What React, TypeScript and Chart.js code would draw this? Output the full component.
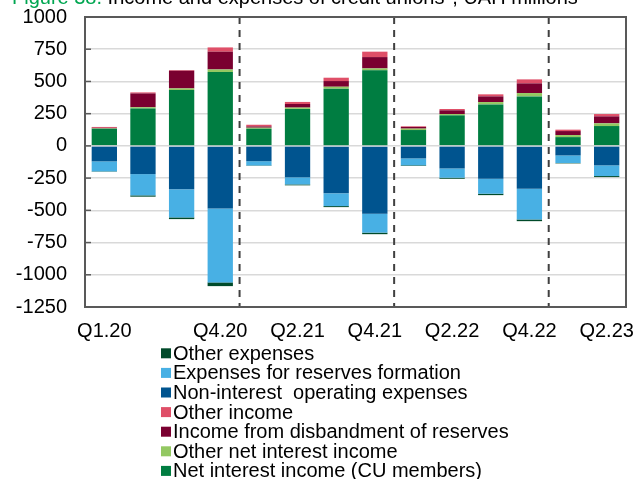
import React, { useEffect, useRef } from "react";
import { Chart, registerables } from "chart.js";

Chart.register(...registerables);

const quarters = ["Q1.20", "Q2.20", "Q3.20", "Q4.20", "Q1.21", "Q2.21", "Q3.21", "Q4.21", "Q1.22", "Q2.22", "Q3.22", "Q4.22", "Q1.23", "Q2.23"];
const shownTickLabels = ["Q1.20", "Q4.20", "Q2.21", "Q4.21", "Q2.22", "Q4.22", "Q2.23"];
const yTicks = [1000, 750, 500, 250, 0, -250, -500, -750, -1000, -1250];

const netInterestIncome = [133, 290, 433, 573, 133, 287, 444, 586, 123, 237, 322, 384, 68, 154];
const otherNetInterestIncome = [3, 10, 13, 20, 8, 10, 15, 15, 11, 10, 18, 26, 16, 21];
const disbandmentIncome = [4, 107, 137, 138, 10, 28, 44, 88, 13, 29, 44, 75, 31, 54];
const otherIncome = [7, 8, 5, 33, 13, 16, 26, 42, 5, 10, 16, 31, 11, 18];
const nonInterestExpenses = [-120, -219, -337, -485, -119, -244, -368, -526, -97, -175, -255, -333, -74, -151];
const reservesExpenses = [-78, -165, -218, -574, -33, -55, -99, -147, -54, -72, -116, -238, -59, -83];
const otherExpenses = [-3, -10, -13, -29, -3, -7, -8, -12, -5, -8, -11, -13, -3, -8];

const titleLead = "Figure 38.";
const titleRest = " Income and expenses of credit unions*, UAH millions";

const FONT = "'Liberation Sans', Arial, sans-serif";

export default function App() {
  const ref = useRef<HTMLCanvasElement | null>(null);

  useEffect(() => {
    if (!ref.current) return;

    const overlay = {
      id: "overlay",
      afterDraw(chart: any) {
        const ctx = chart.ctx;
        const a = chart.chartArea;
        const xs = chart.scales.x;
        const ys = chart.scales.y;
        ctx.save();
        ctx.strokeStyle = "#595959";
        ctx.lineWidth = 1.5;
        yTicks.forEach((v) => {
          const y = ys.getPixelForValue(v);
          ctx.beginPath();
          ctx.moveTo(a.left, y);
          ctx.lineTo(a.left + 6, y);
          ctx.stroke();
        });
        ctx.strokeStyle = "#404040";
        ctx.lineWidth = 2;
        ctx.setLineDash([7, 6]);
        [4, 8, 12].forEach((i) => {
          const x = (xs.getPixelForValue(i - 1) + xs.getPixelForValue(i)) / 2;
          ctx.beginPath();
          ctx.moveTo(x, a.top);
          ctx.lineTo(x, a.bottom);
          ctx.stroke();
        });
        ctx.setLineDash([]);
        ctx.strokeStyle = "#595959";
        ctx.lineWidth = 2;
        ctx.strokeRect(a.left, a.top, a.right - a.left, a.bottom - a.top);
        ctx.font = "20px " + FONT;
        ctx.textBaseline = "alphabetic";
        ctx.textAlign = "left";
        ctx.fillStyle = "#00A651";
        ctx.fillText(titleLead, 12, 4);
        const w = ctx.measureText(titleLead).width;
        ctx.fillStyle = "#000000";
        ctx.fillText(titleRest, 12 + w, 4);
        const ds = chart.data.datasets.slice().reverse();
        ctx.textBaseline = "middle";
        ds.forEach((d: any, i: number) => {
          const y = 353.3 + i * 19.6;
          ctx.fillStyle = d.backgroundColor;
          ctx.fillRect(161, y - 5, 10, 10);
          ctx.fillStyle = "#000000";
          ctx.fillText(d.label, 173, y + 1);
        });
        ctx.restore();
      },
    };

    const mk = (label: string, data: number[], color: string) => ({
      label,
      data,
      backgroundColor: color,
      borderWidth: 0,
      stack: "s",
    });

    const chart = new Chart(ref.current, {
      type: "bar",
      data: {
        labels: quarters,
        datasets: [
          mk("Net interest income (CU members)", netInterestIncome, "#007D41"),
          mk("Other net interest income", otherNetInterestIncome, "#93C862"),
          mk("Income from disbandment of reserves", disbandmentIncome, "#7A0030"),
          mk("Other income", otherIncome, "#DF4F68"),
          mk("Non-interest  operating expenses", nonInterestExpenses, "#00548F"),
          mk("Expenses for reserves formation", reservesExpenses, "#48B0E4"),
          mk("Other expenses", otherExpenses, "#004A2A"),
        ],
      },
      options: {
        responsive: false,
        animation: false,
        devicePixelRatio: 1,
        layout: { padding: { top: 17, right: 7, bottom: 132, left: 0 } },
        datasets: { bar: { barPercentage: 0.655, categoryPercentage: 1 } },
        plugins: {
          legend: { display: false },
          tooltip: { enabled: false },
          title: { display: false },
        },
        scales: {
          x: {
            stacked: true,
            grid: { display: false, drawTicks: false },
            border: { display: false },
            afterFit: (s: any) => {
              s.height = 40;
              s.paddingLeft = 0;
              s.paddingRight = 0;
            },
            ticks: {
              autoSkip: false,
              maxRotation: 0,
              padding: 12,
              color: "#000000",
              font: { family: FONT, size: 20 },
              callback: (_v: any, i: number) => (shownTickLabels.includes(quarters[i]) ? quarters[i] : ""),
            },
          },
          y: {
            stacked: true,
            min: -1250,
            max: 1000,
            afterFit: (s: any) => {
              s.width = 85;
              s.paddingTop = 0;
              s.paddingBottom = 0;
            },
            grid: { color: "#D9D9D9", lineWidth: 1.5, drawTicks: false },
            border: { display: false },
            ticks: {
              stepSize: 250,
              padding: 18,
              color: "#000000",
              font: { family: FONT, size: 20 },
              callback: (v: any) => String(v),
            },
          },
        },
      },
      plugins: [overlay],
    });

    return () => chart.destroy();
  }, []);

  return (
    <div style={{ position: "fixed", left: 0, top: 0, width: 633, height: 479, background: "#ffffff" }}>
      <canvas ref={ref} width={633} height={479} style={{ display: "block" }} />
    </div>
  );
}
